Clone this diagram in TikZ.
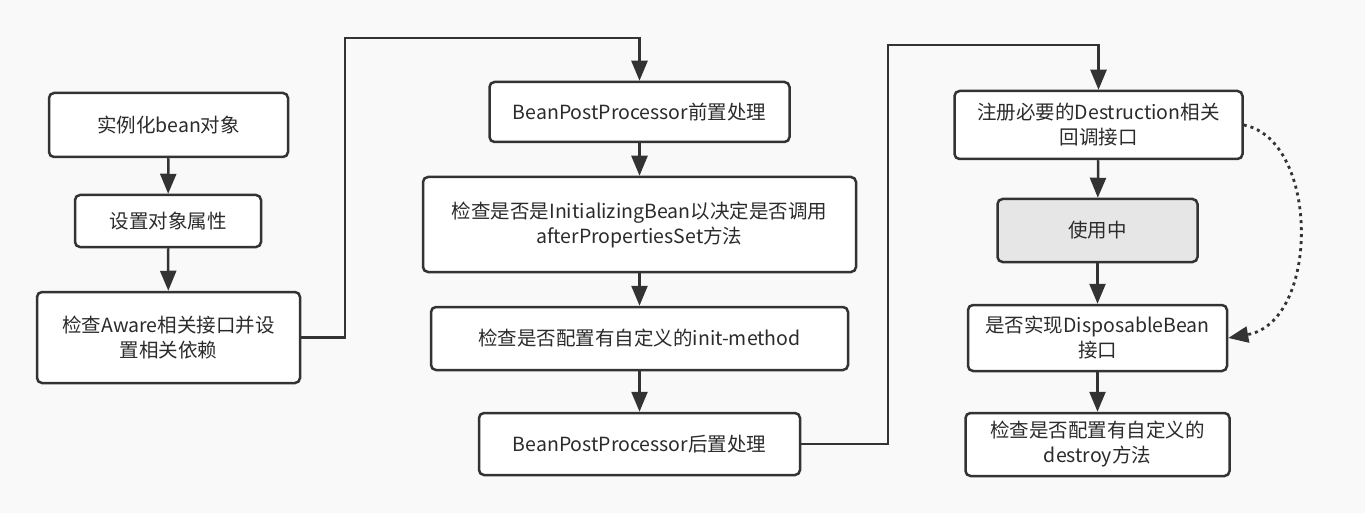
\documentclass[tikz,border=0pt]{standalone}
\usepackage{fontspec}
\setmainfont{Noto Sans CJK SC}
\usetikzlibrary{arrows.meta}
\definecolor{bg}{HTML}{F9F9F9}
\definecolor{ln}{HTML}{333333}
\definecolor{gr}{HTML}{E6E6E6}
\definecolor{tx}{HTML}{2B2B2B}
\tikzset{
  box/.style={draw=ln, line width=2.5pt, rounded corners=5pt, fill=white, inner sep=0pt, align=center, text=tx, font=\fontsize{19.5}{25}\selectfont},
  flow/.style={draw=ln, line width=2.5pt, -{Triangle[width=16pt,length=20pt]}},
  dots/.style={draw=ln, line width=2.8pt, dash pattern=on 3pt off 4pt, -{Triangle[width=16pt,length=20pt]}}
}
\begin{document}
\begin{tikzpicture}[x=1pt,y=-1pt]
\fill[bg] (0,0) rectangle (1365,513);
\useasboundingbox (0,0) rectangle (1365,513);
% left column
\node[box, minimum width=239pt, minimum height=64pt] (b1) at (168.5,125) {实例化bean对象};
\node[box, minimum width=186pt, minimum height=52pt] (b2) at (168,221) {设置对象属性};
\node[box, minimum width=263pt, minimum height=91pt] (b3) at (168.5,337.5) {检查Aware相关接口并设\\置相关依赖};
% middle column
\node[box, minimum width=300pt, minimum height=60pt] (m1) at (639.5,112) {BeanPostProcessor前置处理};
\node[box, minimum width=433pt, minimum height=95pt] (m2) at (639.5,224.5) {检查是否是InitializingBean以决定是否调用\\afterPropertiesSet方法};
\node[box, minimum width=417pt, minimum height=63pt] (m3) at (639.5,338.5) {检查是否配置有自定义的init-method};
\node[box, minimum width=321pt, minimum height=62pt] (m4) at (639.5,444) {BeanPostProcessor后置处理};
% right column
\node[box, minimum width=288pt, minimum height=68pt] (r1) at (1098.5,125) {注册必要的Destruction相关\\回调接口};
\node[box, fill=gr, minimum width=200pt, minimum height=63pt] (r2) at (1097.5,230.5) {使用中};
\node[box, minimum width=259pt, minimum height=66pt] (r3) at (1097.5,338) {是否实现DisposableBean\\接口};
\node[box, minimum width=264pt, minimum height=63pt] (r4) at (1097.5,444.5) {检查是否配置有自定义的\\destroy方法};
% helper corners
\coordinate (c1) at (345,38);
\coordinate (c2) at (888,45);
% connectors
\draw[flow] (b1) -- (b2);
\draw[flow] (b2) -- (b3);
\draw[flow] (b3.east) -| (c1) -| (m1.north);
\draw[flow] (m1) -- (m2);
\draw[flow] (m2) -- (m3);
\draw[flow] (m3) -- (m4);
\draw[flow] (m4.east) -| (c2) -| (r1.north);
\draw[flow] (r1) -- (r2);
\draw[flow] (r2) -- (r3);
\draw[flow] (r3) -- (r4);
\draw[dots] (r1.east) .. controls (1320,140) and (1320,322) .. (r3.east);
\end{tikzpicture}
\end{document}
